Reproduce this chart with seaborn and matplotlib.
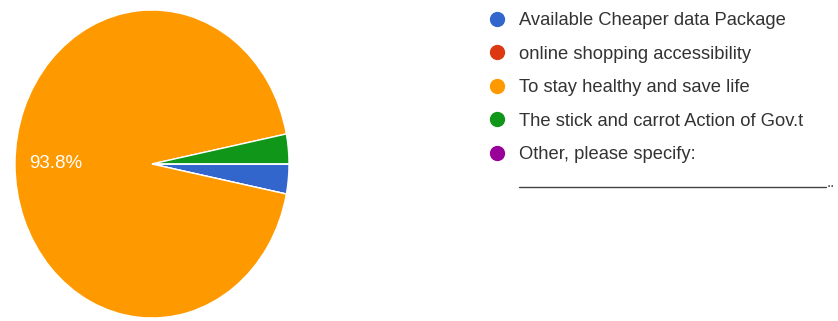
import matplotlib
matplotlib.use("Agg")
import matplotlib.pyplot as plt
from matplotlib.lines import Line2D
import seaborn as sns

# Survey answers: reasons for adopting the practice
categories = [
    "Available Cheaper data Package",
    "online shopping accessibility",
    "To stay healthy and save life",
    "The stick and carrot Action of Gov.t",
    "Other, please specify:",
]
responses = [1, 0, 30, 1, 0]
colors = ["#3366cc", "#dc3912", "#ff9900", "#109618", "#990099"]

sns.set_theme(style="white")
plt.rcParams["font.family"] = ["Liberation Sans", "DejaVu Sans"]

fig = plt.figure(figsize=(8.38, 3.21), dpi=100)
fig.patch.set_facecolor("white")

ax = fig.add_axes([15 / 838, 3 / 321, 274 / 838, 308 / 321])


def pct_label(p):
    return f"{p:.1f}%" if p > 10 else ""


wedges, texts, autotexts = ax.pie(
    responses,
    colors=colors,
    startangle=0,
    counterclock=False,
    autopct=pct_label,
    pctdistance=0.7,
    radius=1.0,
    wedgeprops=dict(edgecolor="white", linewidth=1.0),
    textprops=dict(color="white", fontsize=13.5),
)
ax.set_aspect("auto")
ax.set_xlim(-1.0, 1.0)
ax.set_ylim(-1.0, 1.0)
ax.axis("off")

handles = [
    Line2D([], [], linestyle="none", marker="o", markersize=10,
           markerfacecolor=c, markeredgecolor=c)
    for c in colors
]
leg = fig.legend(
    handles, categories,
    loc="upper left",
    bbox_to_anchor=(482 / 838, 1 - 5 / 321),
    frameon=False,
    fontsize=13.2,
    handlelength=0.8,
    handletextpad=0.8,
    labelspacing=0.9,
    borderaxespad=0,
)
for t in leg.get_texts():
    t.set_color("#333333")

# blank line to fill in after the "Other" option
fig.add_artist(Line2D([519 / 838, 826 / 838], [1 - 187 / 321, 1 - 187 / 321],
                     transform=fig.transFigure, color="#444444", linewidth=1.0))
fig.text(827 / 838, 1 - 187 / 321, "..", color="#444444",
         fontsize=11, va="baseline", ha="left")

fig.savefig("out.png", dpi=100, facecolor="white")
